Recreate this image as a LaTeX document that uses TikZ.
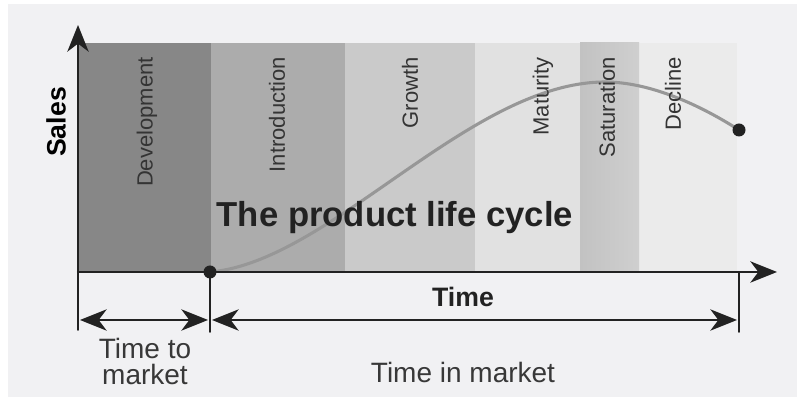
\documentclass[tikz,border=0pt]{standalone}
\usepackage{fontspec}
\setmainfont{Liberation Sans}
\usetikzlibrary{arrows.meta}

\definecolor{bgcol}{HTML}{F1F1F3}
\definecolor{devcol}{HTML}{878787}
\definecolor{introcol}{HTML}{ACACAC}
\definecolor{growcol}{HTML}{CACACA}
\definecolor{matcol}{HTML}{E1E1E1}
\definecolor{satcolA}{HTML}{C2C2C2}
\definecolor{satcolB}{HTML}{CFCFCF}
\definecolor{deccol}{HTML}{EBEBEB}
\definecolor{curvecol}{HTML}{979797}
\definecolor{inkcol}{HTML}{222222}

\tikzset{
  phase/.style={rotate=90,anchor=east,inner sep=0pt,text=inkcol!92,
    font=\fontsize{16.5}{18}\selectfont},
  axisline/.style={line width=1.6pt,color=inkcol},
  tickline/.style={line width=1.4pt,color=inkcol},
  spanarrow/.style={<->,line width=1.4pt,color=inkcol,shorten <=1.5pt,shorten >=1.5pt}
}

\begin{document}
\begin{tikzpicture}[line cap=round,line join=round,
    >={Stealth[length=20pt,width=16pt,inset=6pt]},x=0.75pt,y=-0.75pt]
      \useasboundingbox (0,0) rectangle (797,398);
      \fill[bgcol] (8,4) rectangle (797,397);

      % phase bands
      \foreach \xa/\xb/\col in {78/211/devcol,211/345/introcol,345/475/growcol,475/580/matcol,639/737/deccol}{
        \fill[\col] (\xa,43) rectangle (\xb,272);
      }
      \fill[left color=satcolA,right color=satcolB] (580,43) rectangle (639,272);

      \coordinate (O) at (78,272);
      \coordinate (ytip) at (78,25);
      \coordinate (xtip) at (777,272);
      \coordinate (launch) at (210,272);
      \coordinate (peak) at (605,82);
      \coordinate (stop) at (739,130);

      % sales curve
      \draw[line width=2.3pt,curvecol] (launch) .. controls (330,262) and (470,82) .. (peak)
                .. controls (650,82) and (700,105) .. (stop);
      \fill[inkcol] (launch) circle (6.5);
      \fill[inkcol] (stop) circle (6.5);

      \foreach \xl/\name in {147/Development,277/Introduction,410/Growth,543/Maturity,607/Saturation,673/Decline}{
        \node[phase] (\name) at (\xl,57) {\name};
      }

      \node[font=\fontsize{26}{28}\selectfont\bfseries,text=inkcol] (title) at (395,218) {The product life cycle};
      \node[rotate=90,font=\fontsize{20}{22}\selectfont\bfseries,text=black] (sales) at (56,122) {Sales};

      % axes
      \draw[axisline,->] (O) -- (ytip);
      \draw[axisline,->] (O) -- (xtip);

      % ticks below the time axis
      \coordinate (O-b) at (78,330);
      \coordinate (launch-b) at (210,332);
      \coordinate (end-a) at (739,272);
      \coordinate (end-b) at (739,332);
      \draw[tickline] (O) -- (O-b);
      \draw[tickline] (launch) -- (launch-b);
      \draw[tickline] (end-a) -- (end-b);

      \coordinate (ttm-l) at (78,320);
      \coordinate (ttm-r) at (210,320);
      \coordinate (tim-r) at (739,320);
      \draw[spanarrow] (ttm-l) -- (ttm-r);
      \draw[spanarrow] (ttm-r) -- (tim-r);

      \node[font=\fontsize{20}{22}\selectfont\bfseries,text=inkcol] (time) at (463,297) {Time};
      \node[align=center,inner sep=1pt,font=\fontsize{21}{19.5}\selectfont,text=inkcol!90] (ttm) at (145,361) {Time to\\market};
      \node[font=\fontsize{21}{22}\selectfont,text=inkcol!90] (tim) at (463,372) {Time in market};
    \end{tikzpicture}
\end{document}
